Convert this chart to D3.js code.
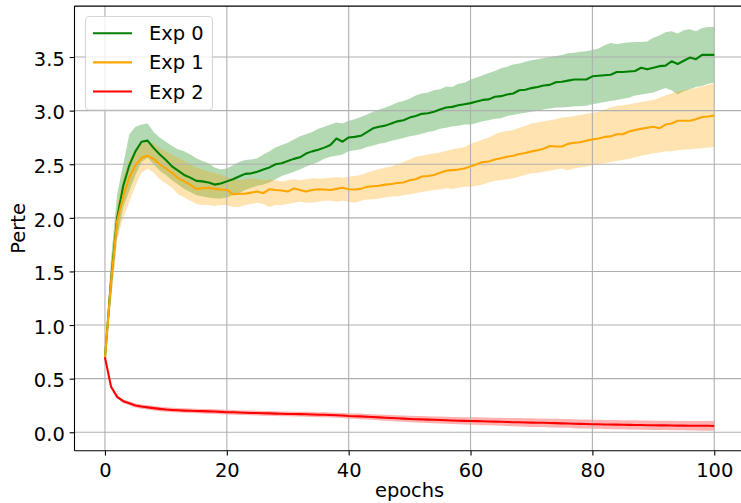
<!DOCTYPE html>
<html>
<head>
<meta charset="utf-8">
<script src="https://cdn.jsdelivr.net/npm/d3@7/dist/d3.min.js"></script>
<style>
html,body{margin:0;padding:0;background:#fff;}
svg{display:block;font-family:"DejaVu Sans",sans-serif;}
</style>
</head>
<body>
<svg id="chart" width="741" height="503"></svg>
<script>
// ---- data ----
const seriesNames = ["Exp 0", "Exp 1", "Exp 2"];
const seriesColors = ["#008000", "#FFA500", "#FF0000"];
const xTicks = [0, 20, 40, 60, 80, 100];
const yTicks = [0.0, 0.5, 1.0, 1.5, 2.0, 2.5, 3.0, 3.5];
const xLabel = "epochs";
const yLabel = "Perte";

const mean0 = [0.69,1.42,2.00,2.30,2.49,2.62,2.71,2.72,2.65,2.59,
 2.54,2.48,2.44,2.40,2.375,2.345,2.34,2.33,2.31,2.32,
 2.34,2.36,2.385,2.41,2.415,2.43,2.45,2.47,2.50,2.51,
 2.53,2.55,2.565,2.60,2.62,2.635,2.655,2.68,2.74,2.71,
 2.75,2.755,2.765,2.80,2.835,2.85,2.86,2.88,2.90,2.91,
 2.935,2.95,2.97,2.975,2.99,3.01,3.03,3.035,3.05,3.06,
 3.07,3.085,3.10,3.105,3.13,3.135,3.15,3.16,3.19,3.195,
 3.21,3.22,3.235,3.24,3.265,3.27,3.28,3.29,3.29,3.29,
 3.32,3.325,3.33,3.335,3.36,3.36,3.365,3.37,3.40,3.385,
 3.40,3.415,3.42,3.46,3.435,3.465,3.495,3.48,3.52,3.52,3.52];
const upper0 = [0.70,1.62,2.22,2.50,2.78,2.85,2.87,2.88,2.80,2.75,
 2.71,2.67,2.64,2.62,2.59,2.555,2.53,2.51,2.47,2.45,
 2.46,2.49,2.52,2.54,2.545,2.555,2.59,2.62,2.655,2.68,
 2.70,2.73,2.76,2.78,2.80,2.83,2.85,2.87,2.89,2.88,
 2.905,2.92,2.94,2.965,2.99,3.01,3.03,3.05,3.075,3.09,
 3.11,3.14,3.16,3.17,3.19,3.20,3.225,3.22,3.25,3.26,
 3.29,3.31,3.33,3.35,3.37,3.395,3.41,3.43,3.44,3.455,
 3.47,3.48,3.49,3.50,3.51,3.52,3.535,3.54,3.55,3.555,
 3.565,3.58,3.61,3.63,3.62,3.63,3.635,3.64,3.64,3.645,
 3.68,3.70,3.73,3.74,3.72,3.75,3.76,3.74,3.77,3.78,3.78];
const lower0 = [0.68,1.25,1.82,2.10,2.25,2.40,2.52,2.56,2.50,2.44,
 2.40,2.35,2.31,2.27,2.24,2.21,2.20,2.19,2.18,2.18,
 2.19,2.21,2.23,2.26,2.28,2.30,2.31,2.33,2.36,2.39,
 2.41,2.43,2.45,2.48,2.50,2.52,2.55,2.57,2.58,2.59,
 2.62,2.63,2.64,2.66,2.675,2.69,2.70,2.72,2.73,2.745,
 2.76,2.77,2.785,2.80,2.81,2.83,2.84,2.855,2.86,2.87,
 2.87,2.885,2.90,2.91,2.925,2.93,2.95,2.96,2.97,2.98,
 2.99,3.00,3.01,3.02,3.03,3.03,3.035,3.04,3.04,3.045,
 3.06,3.07,3.08,3.09,3.10,3.11,3.12,3.14,3.15,3.16,
 3.17,3.19,3.21,3.19,3.15,3.18,3.20,3.22,3.23,3.25,3.26];

const mean1 = [0.69,1.40,1.97,2.20,2.38,2.49,2.56,2.58,2.55,2.50,
 2.46,2.42,2.37,2.34,2.31,2.27,2.275,2.28,2.27,2.265,
 2.26,2.22,2.225,2.225,2.235,2.245,2.23,2.267,2.26,2.255,
 2.245,2.275,2.26,2.245,2.26,2.267,2.265,2.26,2.27,2.28,
 2.267,2.265,2.27,2.29,2.295,2.30,2.31,2.315,2.325,2.33,
 2.35,2.36,2.385,2.39,2.40,2.42,2.44,2.445,2.45,2.46,
 2.48,2.50,2.52,2.525,2.545,2.555,2.57,2.58,2.595,2.605,
 2.62,2.63,2.645,2.67,2.665,2.665,2.69,2.70,2.705,2.72,
 2.73,2.74,2.755,2.76,2.78,2.78,2.805,2.82,2.83,2.84,
 2.85,2.835,2.87,2.88,2.905,2.905,2.905,2.92,2.94,2.945,2.955];
const upper1 = [0.70,1.55,2.12,2.38,2.55,2.64,2.69,2.71,2.69,2.65,
 2.62,2.59,2.56,2.53,2.50,2.47,2.45,2.43,2.42,2.40,
 2.38,2.36,2.35,2.36,2.37,2.36,2.35,2.36,2.35,2.34,
 2.35,2.36,2.35,2.36,2.37,2.365,2.37,2.375,2.38,2.375,
 2.385,2.39,2.40,2.42,2.44,2.455,2.47,2.48,2.50,2.52,
 2.545,2.57,2.58,2.59,2.60,2.61,2.625,2.64,2.65,2.66,
 2.69,2.71,2.73,2.75,2.78,2.80,2.81,2.82,2.84,2.86,
 2.88,2.89,2.90,2.91,2.92,2.935,2.94,2.95,2.96,2.97,
 2.98,2.99,3.01,3.03,3.045,3.05,3.06,3.07,3.08,3.09,
 3.10,3.12,3.14,3.16,3.18,3.19,3.20,3.21,3.225,3.24,3.255];
const lower1 = [0.68,1.22,1.80,2.00,2.15,2.30,2.42,2.46,2.42,2.36,
 2.32,2.28,2.22,2.19,2.16,2.13,2.12,2.12,2.11,2.12,
 2.12,2.10,2.10,2.12,2.13,2.14,2.13,2.10,2.12,2.12,
 2.13,2.14,2.15,2.14,2.14,2.15,2.16,2.16,2.15,2.16,
 2.15,2.14,2.16,2.17,2.17,2.18,2.19,2.20,2.20,2.21,
 2.22,2.23,2.24,2.25,2.26,2.265,2.275,2.27,2.28,2.29,
 2.29,2.30,2.31,2.33,2.345,2.35,2.36,2.37,2.385,2.40,
 2.415,2.42,2.43,2.44,2.45,2.46,2.445,2.46,2.47,2.48,
 2.49,2.50,2.51,2.52,2.53,2.54,2.55,2.565,2.58,2.59,
 2.60,2.61,2.62,2.62,2.63,2.635,2.64,2.645,2.65,2.655,2.66];

const mean2 = [0.70,0.425,0.33,0.29,0.27,0.25,0.24,0.232,0.225,0.218,
 0.212,0.208,0.205,0.202,0.200,0.199,0.197,0.195,0.193,0.190,
 0.187,0.186,0.184,0.182,0.180,0.179,0.177,0.176,0.174,0.172,
 0.171,0.170,0.169,0.168,0.166,0.164,0.163,0.161,0.159,0.156,
 0.152,0.150,0.148,0.145,0.142,0.139,0.136,0.133,0.130,0.127,
 0.124,0.122,0.120,0.118,0.116,0.114,0.112,0.110,0.108,0.106,
 0.105,0.104,0.102,0.101,0.099,0.098,0.096,0.094,0.093,0.091,
 0.090,0.089,0.088,0.086,0.085,0.083,0.082,0.080,0.078,0.077,
 0.075,0.074,0.073,0.072,0.071,0.070,0.069,0.068,0.067,0.066,
 0.065,0.064,0.064,0.063,0.062,0.062,0.061,0.061,0.060,0.060,0.059];
const spread2 = [0.003,0.010,0.014,0.016,0.018,0.019,0.020,0.020,0.021,0.021,
 0.021,0.021,0.021,0.021,0.021,0.021,0.021,0.022,0.022,0.022,
 0.022,0.022,0.022,0.022,0.022,0.022,0.022,0.022,0.022,0.022,
 0.022,0.022,0.022,0.023,0.023,0.023,0.023,0.024,0.024,0.024,
 0.025,0.025,0.026,0.026,0.027,0.027,0.028,0.028,0.029,0.029,
 0.030,0.030,0.031,0.031,0.032,0.032,0.033,0.033,0.034,0.034,
 0.035,0.035,0.036,0.036,0.037,0.037,0.038,0.038,0.039,0.039,
 0.040,0.040,0.040,0.041,0.041,0.041,0.041,0.042,0.042,0.042,
 0.042,0.042,0.042,0.043,0.043,0.043,0.043,0.043,0.043,0.043,
 0.043,0.044,0.044,0.044,0.044,0.044,0.045,0.045,0.045,0.045,0.045];

(function(){
// ---- build series ----
const epochs = d3.range(mean0.length);
const series = [
  {name: seriesNames[0], color: seriesColors[0], mean: mean0, lo: lower0, hi: upper0},
  {name: seriesNames[1], color: seriesColors[1], mean: mean1, lo: lower1, hi: upper1},
  {name: seriesNames[2], color: seriesColors[2], mean: mean2,
   lo: mean2.map((m,i)=>m - spread2[i]), hi: mean2.map((m,i)=>m + spread2[i])}
];

// ---- layout ----
const svg = d3.select("#chart");
const FS = 19.44;
const pL = 74.5, pR = 744.7, pT = 6.1, pB = 450.7;
const x = d3.scaleLinear().domain([-5, 105]).range([pL, pR]);
const y = d3.scaleLinear().domain([-0.172, 3.975]).range([pB, pT]);

svg.append("defs").append("clipPath").attr("id","clip")
  .append("rect").attr("x",pL).attr("y",pT).attr("width",pR-pL).attr("height",pB-pT);

const plot = svg.append("g").attr("clip-path","url(#clip)");

// fills (below grid)
const area = d3.area().x((d,i)=>x(epochs[i])).y0(d=>y(d[0])).y1(d=>y(d[1]));
series.forEach(s=>{
  plot.append("path")
    .datum(s.lo.map((v,i)=>[v, s.hi[i]]))
    .attr("d", area)
    .attr("fill", s.color)
    .attr("fill-opacity", 0.3)
    .attr("stroke","none");
});

// grid
const grid = svg.append("g");
grid.selectAll("line.gx").data(xTicks).join("line").attr("class","gx")
  .attr("x1",d=>x(d)).attr("x2",d=>x(d)).attr("y1",pT).attr("y2",pB)
  .attr("stroke","#b0b0b0").attr("stroke-width",1.1);
grid.selectAll("line.gy").data(yTicks).join("line").attr("class","gy")
  .attr("y1",d=>y(d)).attr("y2",d=>y(d)).attr("x1",pL).attr("x2",pR)
  .attr("stroke","#b0b0b0").attr("stroke-width",1.1);

// lines
const plot2 = svg.append("g").attr("clip-path","url(#clip)");
const line = d3.line().x((d,i)=>x(epochs[i])).y(d=>y(d));
series.forEach(s=>{
  plot2.append("path")
    .datum(s.mean)
    .attr("d", line)
    .attr("fill","none")
    .attr("stroke", s.color)
    .attr("stroke-width", 2.08)
    .attr("stroke-linejoin","round");
});

// axes
const xAxis = d3.axisBottom(x).tickValues(xTicks).tickFormat(d3.format("d"))
  .tickSize(4.86).tickPadding(7.4).tickSizeOuter(0);
const gx = svg.append("g").attr("transform",`translate(0,${pB})`).call(xAxis);
gx.select(".domain").remove();
gx.selectAll(".tick line").attr("stroke","#000").attr("stroke-width",1.1);
gx.selectAll(".tick text").attr("font-size",FS).attr("font-family","DejaVu Sans").attr("fill","#000");

const yAxis = d3.axisLeft(y).tickValues(yTicks).tickFormat(d3.format(".1f"))
  .tickSize(4.86).tickPadding(4.86).tickSizeOuter(0);
const gy = svg.append("g").attr("transform",`translate(${pL},0)`).call(yAxis);
gy.select(".domain").remove();
gy.selectAll(".tick line").attr("stroke","#000").attr("stroke-width",1.1);
gy.selectAll(".tick text").attr("font-size",FS).attr("font-family","DejaVu Sans").attr("fill","#000").attr("dy","0.42em");

// spines
const sp = svg.append("g").attr("stroke","#000").attr("stroke-width",1.1).attr("fill","none");
sp.append("line").attr("x1",pL).attr("x2",pL).attr("y1",pT).attr("y2",pB);
sp.append("line").attr("x1",pL).attr("x2",pR).attr("y1",pB).attr("y2",pB);
sp.append("line").attr("x1",pL).attr("x2",pR).attr("y1",pT).attr("y2",pT);
sp.append("line").attr("x1",pR).attr("x2",pR).attr("y1",pT).attr("y2",pB);

// axis labels
svg.append("text").attr("x",(pL+pR)/2).attr("y",497)
  .attr("text-anchor","middle").attr("font-size",FS).attr("fill","#000").text(xLabel);
svg.append("text").attr("transform",`translate(25,${(pT+pB)/2}) rotate(-90)`)
  .attr("text-anchor","middle").attr("font-size",FS).attr("fill","#000").text(yLabel);

// legend
const lg = svg.append("g");
lg.append("rect").attr("x",85.5).attr("y",16.5).attr("width",127).attr("height",93.5)
  .attr("rx",4).attr("ry",4).attr("fill","#fff").attr("fill-opacity",0.8)
  .attr("stroke","#cccccc").attr("stroke-opacity",0.8).attr("stroke-width",1.1);
const rows = lg.selectAll("g.row").data(series).join("g").attr("class","row")
  .attr("transform",(d,i)=>`translate(0,${33.3 + i*29.1})`);
rows.append("line").attr("x1",93).attr("x2",132).attr("y1",0).attr("y2",0)
  .attr("stroke",d=>d.color).attr("stroke-width",2.08);
rows.append("text").attr("x",149).attr("y",7).attr("font-size",FS).attr("fill","#000").text(d=>d.name);
})();
</script>
</body>
</html>
